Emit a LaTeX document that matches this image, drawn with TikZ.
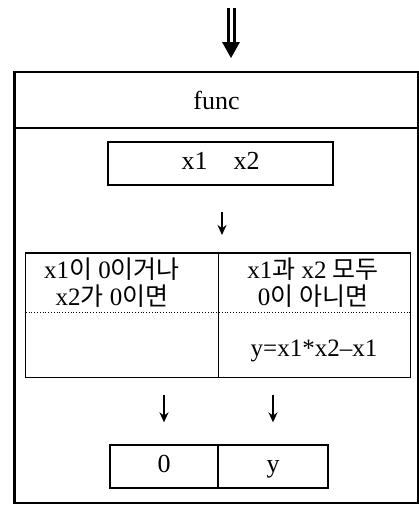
\documentclass[tikz,border=0pt]{standalone}
\usepackage{fontspec}
\setmainfont{Liberation Serif}
\newfontfamily\kr{Noto Sans CJK KR}
\usetikzlibrary{positioning,arrows.meta,calc}

\begin{document}
\begin{tikzpicture}[x=1pt, y=-1pt,
  n/.style={draw, line width=1.3pt, minimum height=43pt, inner sep=0pt, text height=17pt, text depth=5pt, font=\fontsize{26}{30}\selectfont},
  c/.style={inner sep=0pt, align=center, font=\fontsize{25}{27}\selectfont},
  ln/.style={line width=1.3pt},
  e/.style={-{Stealth[length=10pt,width=9pt]}, line width=1.8pt},
  dbl/.style={double, double distance=3pt, line width=3pt}]
  \useasboundingbox (0,0) rectangle (419,506);
  % frame and header
  \node[draw, line width=1.8pt, minimum width=403pt, minimum height=431pt] (frame) at (216.5,287.5) {};
  \draw[line width=3pt] (frame.north west) -- (frame.south west);
  \node[draw, line width=1.8pt, minimum width=403pt, minimum height=56pt, font=\fontsize{26}{30}\selectfont] (fn) at (216.5,100) {func};
  \coordinate (src) at (231,8);
  \coordinate (tip) at (231,58);
  \draw[dbl] (src) -- ($(tip)+(0,-13)$);
  \fill ($(tip)+(-9,-16)$) -- (tip) -- ($(tip)+(9,-16)$) -- cycle;
  % arguments
  \node[n, minimum width=225pt] (args) at (220.5,163.5) {x1\quad x2};
  % condition table
  \coordinate (tbl) at (222,253);
  \node[c, minimum width=192pt, minimum height=60pt] (p1) at (112,283) {x1{\kr 이} 0{\kr 이거나}\\x2{\kr 가} 0{\kr 이면}};
  \node[c, minimum width=192pt, minimum height=60pt] (p2) at (313,283) {x1{\kr 과} x2 {\kr 모두}\\0{\kr 이 아니면}};
  \node[minimum width=192pt, minimum height=64pt] (q1) at (122,345) {};
  \node[minimum width=192pt, minimum height=64pt] (q2) at (314,345) {};
  \node[c] (res) at (314,351) {y=x1*x2--x1};
  \draw[ln] (q1.north west |- tbl) rectangle (q2.south east);
  \draw[ln] (q1.north east |- tbl) -- (q1.south east);
  \draw[dotted, line width=0.8pt] (q1.north west) -- (q2.north east);
  \draw[e, shorten <=26pt, shorten >=18pt] (args.south -| tbl) -- (tbl);
  % results
  \node[n, minimum width=108pt] (o1) at (164,466.5) {0};
  \node[n, minimum width=110pt] (o2) at (273,466.5) {y};
  \draw[e, shorten <=18pt, shorten >=22pt] (o1.north |- q1.south) -- (o1.north);
  \draw[e, shorten <=18pt, shorten >=22pt] (o2.north |- q2.south) -- (o2.north);
\end{tikzpicture}
\end{document}
